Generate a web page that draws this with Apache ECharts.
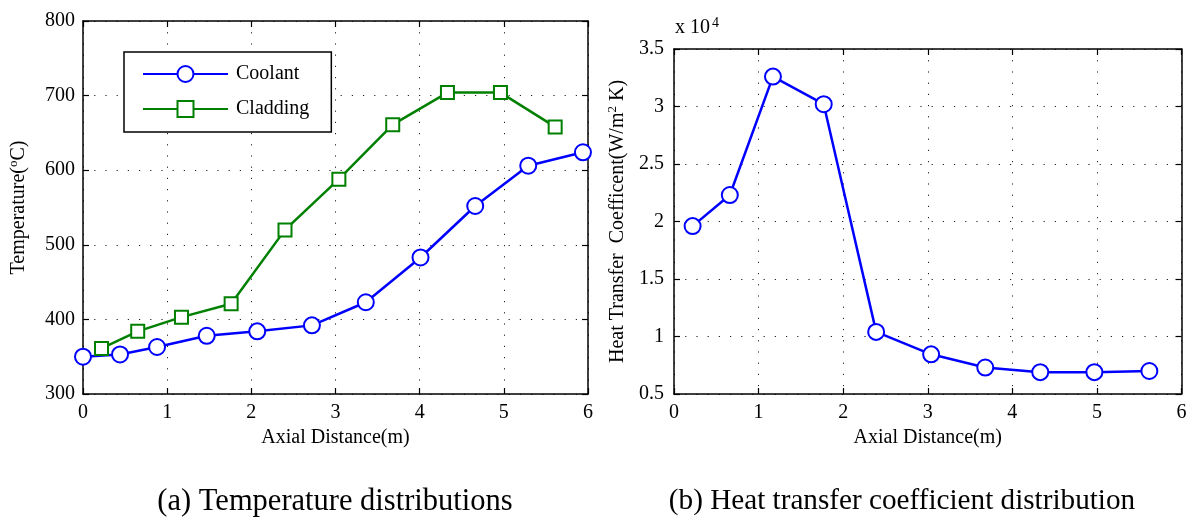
<!DOCTYPE html>
<html>
<head>
<meta charset="utf-8">
<script src="https://cdn.jsdelivr.net/npm/echarts@6/dist/echarts.min.js"></script>
<style>
html,body{margin:0;padding:0;background:#fff;}
#c{width:1192px;height:520px;}
</style>
</head>
<body>
<div id="c"></div>
<script>
// ---- data ----
var coolantX = [0, 0.44, 0.88, 1.47, 2.07, 2.72, 3.36, 4.01, 4.66, 5.29, 5.94];
var coolantT = [350, 353, 363, 378, 384, 392, 423, 483, 552, 606, 624];
var claddingX = [0.22, 0.65, 1.17, 1.76, 2.40, 3.04, 3.68, 4.33, 4.96, 5.61];
var claddingT = [361, 384, 403, 421, 520, 588, 661, 704, 704, 658];
var htcX = [0.22, 0.66, 1.17, 1.77, 2.39, 3.04, 3.68, 4.33, 4.97, 5.62];
var htcValues = [19600, 22300, 32600, 30200, 10400, 8450, 7300, 6900, 6900, 7000];
var xTicks = [0, 1, 2, 3, 4, 5, 6];
var tempTicks = [300, 400, 500, 600, 700, 800];
var htcTicks = [0.5, 1, 1.5, 2, 2.5, 3, 3.5]; // x 10^4
var captionA = '(a) Temperature distributions';
var captionB = '(b) Heat transfer coefficient distribution';

function zip(xs, ys) { return xs.map(function (x, i) { return [x, ys[i]]; }); }

var FONT = 'Liberation Serif';
var FS = 20;
var gridLine = { show: true, lineStyle: { color: '#222', width: 1, type: [1.2, 10] } };
var axisLine = { show: true, onZero: false, lineStyle: { color: '#000', width: 1.5 } };
var tick = { show: true, inside: true, length: 6, lineStyle: { color: '#000', width: 1.2 } };
var lbl = { fontFamily: FONT, fontSize: FS, color: '#000' };

function xAx(grid, pos, show, name) {
  return {
    type: 'value', gridIndex: grid, position: pos,
    min: xTicks[0], max: xTicks[xTicks.length - 1], interval: 1,
    axisLine: axisLine, axisTick: tick,
    axisLabel: Object.assign({ show: show, margin: 9 }, lbl),
    splitLine: show ? gridLine : { show: false },
    name: name || '', nameLocation: 'middle', nameGap: 33,
    nameTextStyle: { fontFamily: FONT, fontSize: FS, color: '#000' }
  };
}

var tempName = {
  type: 'value', gridIndex: 0, position: 'left',
  min: tempTicks[0], max: tempTicks[tempTicks.length - 1], interval: 100,
  axisLine: axisLine, axisTick: tick,
  axisLabel: Object.assign({ margin: 8 }, lbl),
  splitLine: gridLine,
  name: '{n|Temperature(}{s|o}{n|C)}', nameLocation: 'middle', nameGap: 52, nameRotate: 90,
  nameTextStyle: {
    fontFamily: FONT, fontSize: FS, color: '#000',
    rich: {
      n: { fontFamily: FONT, fontSize: FS, color: '#000', lineHeight: 24 },
      s: { fontFamily: FONT, fontSize: 13, color: '#000', verticalAlign: 'top', lineHeight: 24, padding: [0, 0, 10, 0] }
    }
  }
};
var htcAxis = {
  type: 'value', gridIndex: 1, position: 'left',
  min: htcTicks[0] * 1e4, max: htcTicks[htcTicks.length - 1] * 1e4, interval: 5000,
  axisLine: axisLine, axisTick: tick,
  axisLabel: Object.assign({ margin: 10, formatter: function (v) { return String(v / 1e4); } }, lbl),
  splitLine: gridLine,
  name: '{n|Heat Transfer  Coefficent(W/m}{s|2}{n| K)}', nameLocation: 'middle', nameGap: 44, nameRotate: 90,
  nameTextStyle: {
    fontFamily: FONT, fontSize: FS, color: '#000',
    rich: {
      n: { fontFamily: FONT, fontSize: FS, color: '#000', lineHeight: 24 },
      s: { fontFamily: FONT, fontSize: 13, color: '#000', verticalAlign: 'top', lineHeight: 24, padding: [0, 0, 10, 0] }
    }
  }
};
function yRight(grid, min, max, interval) {
  return {
    type: 'value', gridIndex: grid, position: 'right', min: min, max: max, interval: interval,
    axisLine: axisLine, axisTick: tick, axisLabel: { show: false }, splitLine: { show: false }
  };
}

var option = {
  backgroundColor: '#fff',
  animation: false,
  title: [
    { text: captionA, left: 330, top: 481, textAlign: 'center',
      textStyle: { fontFamily: FONT, fontSize: 30.5, fontWeight: 'normal', color: '#000' } },
    { text: captionB, left: 897, top: 482, textAlign: 'center',
      textStyle: { fontFamily: FONT, fontSize: 29.2, fontWeight: 'normal', color: '#000' } }
  ],
  grid: [
    { left: 83, right: 604, top: 21, bottom: 126 },
    { left: 674, right: 10.5, top: 49, bottom: 126 }
  ],
  xAxis: [
    xAx(0, 'bottom', true, 'Axial Distance(m)'),
    xAx(0, 'top', false),
    xAx(1, 'bottom', true, 'Axial Distance(m)'),
    xAx(1, 'top', false)
  ],
  yAxis: [
    tempName,
    yRight(0, tempTicks[0], tempTicks[tempTicks.length - 1], 100),
    htcAxis,
    yRight(1, htcTicks[0] * 1e4, htcTicks[htcTicks.length - 1] * 1e4, 5000)
  ],
  legend: {
    data: ['Coolant', 'Cladding'],
    orient: 'vertical', left: 124, top: 52,
    itemWidth: 85, itemHeight: 20, itemGap: 15,
    padding: [12, 22, 13, 18],
    borderColor: '#000', borderWidth: 1.5, backgroundColor: '#fff',
    textStyle: { fontFamily: FONT, fontSize: FS, color: '#000', padding: [0, 0, 0, 3] }
  },
  graphic: [
    { type: 'text', left: 675, top: 16,
      style: { text: '{n|x 10}{s|4}', rich: {
        n: { fontFamily: FONT, fontSize: 20, fill: '#000', lineHeight: 24 },
        s: { fontFamily: FONT, fontSize: 14, fill: '#000', verticalAlign: 'top', lineHeight: 24, padding: [0, 0, 12, 2] }
      } } }
  ],
  series: [
    { name: 'Coolant', type: 'line', xAxisIndex: 0, yAxisIndex: 0, data: zip(coolantX, coolantT),
      symbol: 'emptyCircle', symbolSize: 16, clip: false,
      lineStyle: { color: '#0000ff', width: 2.5 },
      itemStyle: { color: '#0000ff', borderColor: '#0000ff', borderWidth: 2.5 } },
    { name: 'Cladding', type: 'line', xAxisIndex: 0, yAxisIndex: 0, data: zip(claddingX, claddingT),
      symbol: 'emptyRect', symbolSize: 13, clip: false,
      lineStyle: { color: '#008000', width: 2.5 },
      itemStyle: { color: '#008000', borderColor: '#008000', borderWidth: 2.5 } },
    { name: 'HTC', type: 'line', xAxisIndex: 2, yAxisIndex: 2, data: zip(htcX, htcValues),
      symbol: 'emptyCircle', symbolSize: 16, clip: false,
      lineStyle: { color: '#0000ff', width: 2.5 },
      itemStyle: { color: '#0000ff', borderColor: '#0000ff', borderWidth: 2.5 } }
  ]
};

var chart = echarts.init(document.getElementById('c'), null, { renderer: 'canvas' });
chart.setOption(option);
</script>
</body>
</html>
